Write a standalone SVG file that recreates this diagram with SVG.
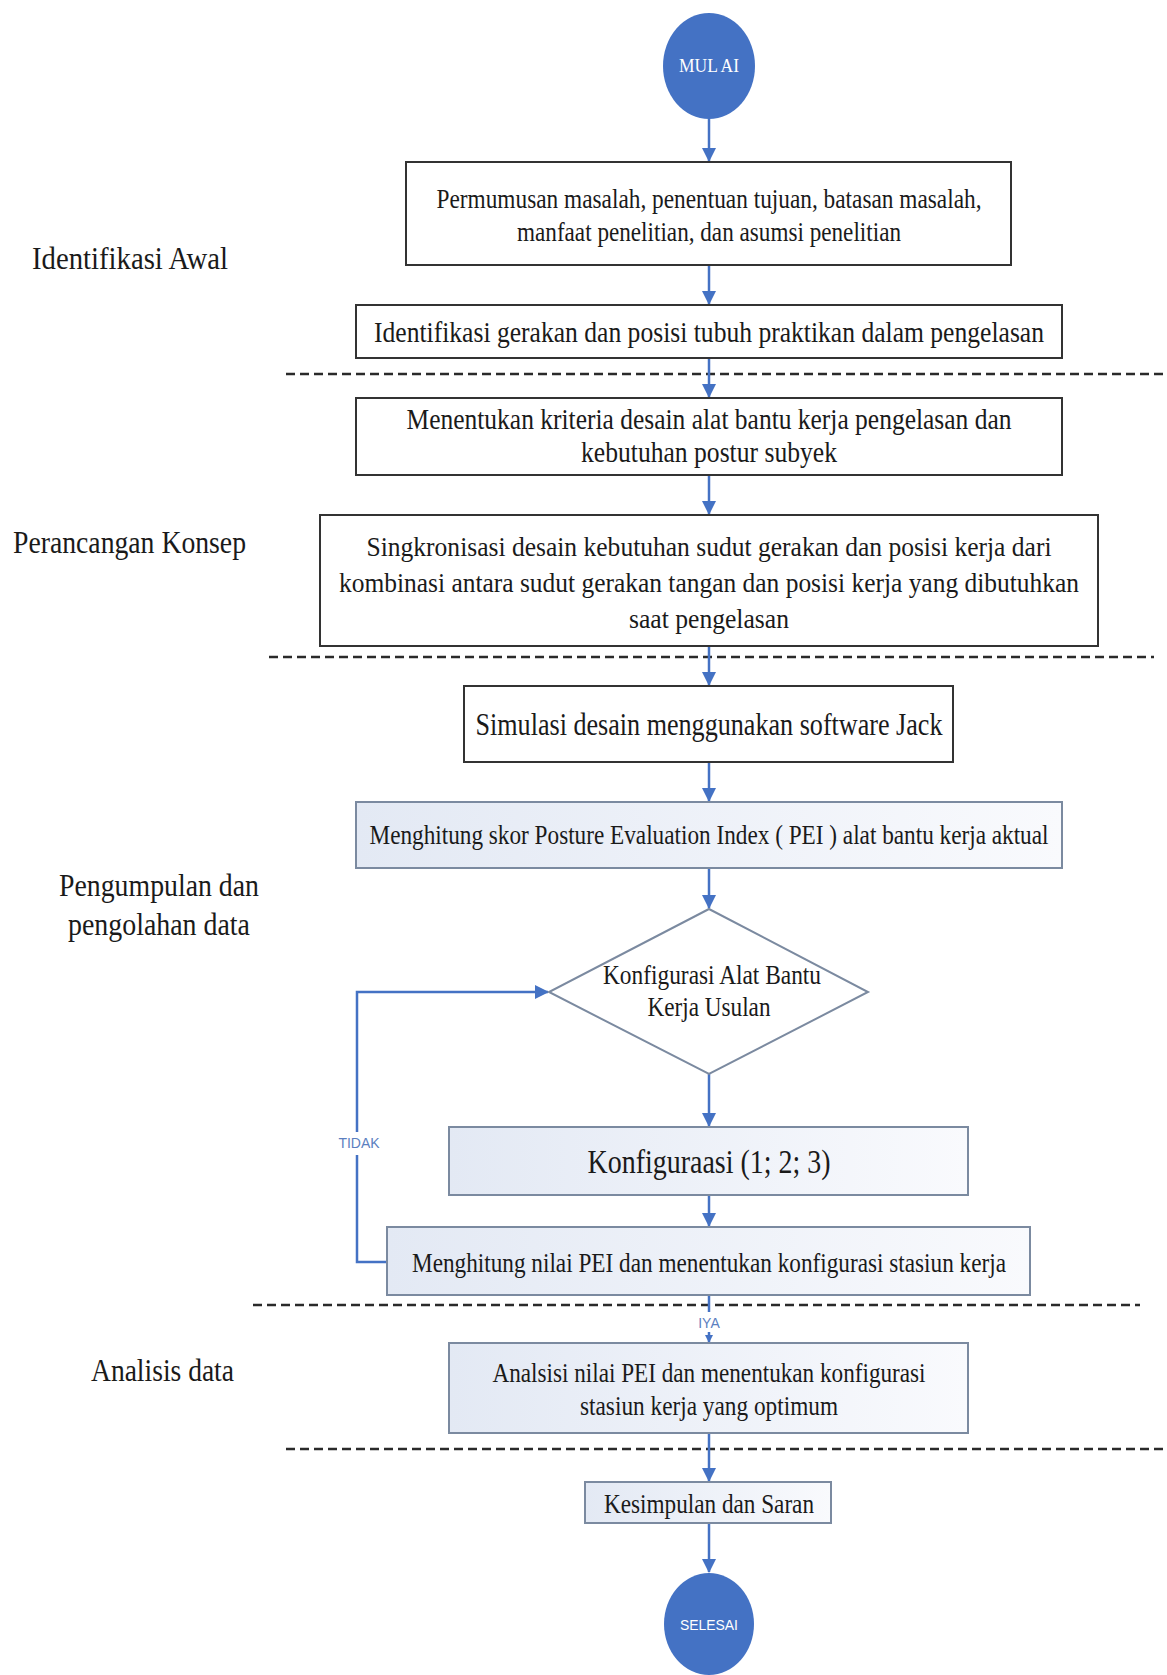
<svg xmlns="http://www.w3.org/2000/svg" width="1167" height="1675" viewBox="0 0 1167 1675">
<style>
.t{font-family:"Liberation Serif","Times New Roman",serif;fill:#1a1a1a;text-anchor:middle}
.lbl{font-family:"Liberation Serif","Times New Roman",serif;fill:#1a1a1a;font-size:31px}
.box{fill:#ffffff;stroke:#333333;stroke-width:2}
.boxb{fill:url(#lg);stroke:#7b8aa0;stroke-width:2}
.term{fill:#4472c4}
.tw{font-family:"Liberation Serif",serif;fill:#ffffff;text-anchor:middle}
.ts{font-family:"Liberation Sans",Arial,sans-serif;fill:#ffffff;text-anchor:middle}
.con{stroke:#4472c4;stroke-width:2.5;fill:none}
.dash{stroke:#2a2a2a;stroke-width:2.5;stroke-dasharray:9 5;fill:none}
.note{font-family:"Liberation Sans",Arial,sans-serif;fill:#5b7fbf;font-size:14px;text-anchor:middle}
</style>
<defs>
<linearGradient id="lg" x1="0" y1="0" x2="1" y2="0">
<stop offset="0" stop-color="#e3e9f4"/>
<stop offset="1" stop-color="#f9fafd"/>
</linearGradient>
<marker id="ah" markerWidth="14" markerHeight="14" refX="13" refY="7" orient="auto" markerUnits="userSpaceOnUse">
<path d="M0,0 L14,7 L0,14 Z" fill="#4472c4"/>
</marker>
<marker id="ahs" markerWidth="8" markerHeight="8" refX="7" refY="4" orient="auto" markerUnits="userSpaceOnUse">
<path d="M0,0 L8,4 L0,8 Z" fill="#4472c4"/>
</marker>
</defs>

<g id="phase-lines">
<line class="dash" x1="286" y1="374" x2="1167" y2="374"/>
<line class="dash" x1="269" y1="657" x2="1154" y2="657"/>
<line class="dash" x1="253" y1="1305" x2="1140" y2="1305"/>
<line class="dash" x1="286" y1="1449" x2="1167" y2="1449"/>
</g>

<g id="phase-labels">
<text class="lbl" x="32" y="269" textLength="196" lengthAdjust="spacingAndGlyphs">Identifikasi Awal</text>
<text class="lbl" x="13" y="553" textLength="233" lengthAdjust="spacingAndGlyphs">Perancangan Konsep</text>
<text class="lbl" x="59" y="896" textLength="200" lengthAdjust="spacingAndGlyphs">Pengumpulan dan</text>
<text class="lbl" x="68" y="935" textLength="182" lengthAdjust="spacingAndGlyphs">pengolahan data</text>
<text class="lbl" x="91" y="1381" textLength="143" lengthAdjust="spacingAndGlyphs">Analisis data</text>
</g>

<g id="connectors">
<line class="con" x1="709" y1="119" x2="709" y2="161" marker-end="url(#ah)"/>
<line class="con" x1="709" y1="265" x2="709" y2="304" marker-end="url(#ah)"/>
<line class="con" x1="709" y1="358" x2="709" y2="397" marker-end="url(#ah)"/>
<line class="con" x1="709" y1="475" x2="709" y2="514" marker-end="url(#ah)"/>
<line class="con" x1="709" y1="646" x2="709" y2="685" marker-end="url(#ah)"/>
<line class="con" x1="709" y1="762" x2="709" y2="801" marker-end="url(#ah)"/>
<line class="con" x1="709" y1="868" x2="709" y2="908" marker-end="url(#ah)"/>
<line class="con" x1="709" y1="1074" x2="709" y2="1126" marker-end="url(#ah)"/>
<line class="con" x1="709" y1="1195" x2="709" y2="1226" marker-end="url(#ah)"/>
<path class="con" d="M387,1262 H357 V1155 M357,1132 V992 H548" marker-end="url(#ah)"/>
<text class="note" x="359" y="1148">TIDAK</text>
<line class="con" x1="709" y1="1295" x2="709" y2="1312"/>
<text class="note" x="709" y="1328">IYA</text>
<line class="con" x1="709" y1="1332" x2="709" y2="1342" marker-end="url(#ahs)"/>
<line class="con" x1="709" y1="1433" x2="709" y2="1481" marker-end="url(#ah)"/>
<line class="con" x1="709" y1="1523" x2="709" y2="1572" marker-end="url(#ah)"/>
</g>

<g id="n-mulai">
<ellipse class="term" cx="709" cy="66" rx="46" ry="53"/>
<text class="tw" x="709" y="72" font-size="18" textLength="60" lengthAdjust="spacingAndGlyphs">MUL AI</text>
</g>

<g id="n-perumusan">
<rect class="box" x="406" y="162" width="605" height="103"/>
<text class="t" x="709" y="208" font-size="27" textLength="545" lengthAdjust="spacingAndGlyphs">Permumusan masalah, penentuan tujuan, batasan masalah,</text>
<text class="t" x="709" y="241" font-size="27" textLength="384" lengthAdjust="spacingAndGlyphs">manfaat penelitian, dan asumsi penelitian</text>
</g>

<g id="n-identifikasi">
<rect class="box" x="356" y="305" width="706" height="53"/>
<text class="t" x="709" y="342" font-size="29" textLength="670" lengthAdjust="spacingAndGlyphs">Identifikasi gerakan dan posisi tubuh praktikan dalam pengelasan</text>
</g>

<g id="n-kriteria">
<rect class="box" x="356" y="398" width="706" height="77"/>
<text class="t" x="709" y="429" font-size="29" textLength="605" lengthAdjust="spacingAndGlyphs">Menentukan kriteria desain alat bantu kerja pengelasan dan</text>
<text class="t" x="709" y="462" font-size="29" textLength="256" lengthAdjust="spacingAndGlyphs">kebutuhan postur subyek</text>
</g>

<g id="n-singkronisasi">
<rect class="box" x="320" y="515" width="778" height="131"/>
<text class="t" x="709" y="556" font-size="28" textLength="685" lengthAdjust="spacingAndGlyphs">Singkronisasi desain kebutuhan sudut gerakan dan posisi kerja dari</text>
<text class="t" x="709" y="592" font-size="28" textLength="740" lengthAdjust="spacingAndGlyphs">kombinasi antara sudut gerakan tangan dan posisi kerja yang dibutuhkan</text>
<text class="t" x="709" y="628" font-size="28" textLength="160" lengthAdjust="spacingAndGlyphs">saat pengelasan</text>
</g>

<g id="n-simulasi">
<rect class="box" x="464" y="686" width="489" height="76"/>
<text class="t" x="709" y="735" font-size="31" textLength="467" lengthAdjust="spacingAndGlyphs">Simulasi desain menggunakan software Jack</text>
</g>

<g id="n-pei-aktual">
<rect class="boxb" x="356" y="802" width="706" height="66"/>
<text class="t" x="709" y="844" font-size="27" textLength="679" lengthAdjust="spacingAndGlyphs">Menghitung skor Posture Evaluation Index ( PEI ) alat bantu kerja aktual</text>
</g>

<g id="n-konfigurasi-usulan">
<polygon points="709,909 868,992 709,1074 549,992" fill="#ffffff" stroke="#7b8aa0" stroke-width="2"/>
<text class="t" x="712" y="984" font-size="27" textLength="218" lengthAdjust="spacingAndGlyphs">Konfigurasi Alat Bantu</text>
<text class="t" x="709" y="1016" font-size="27" textLength="123" lengthAdjust="spacingAndGlyphs">Kerja Usulan</text>
</g>

<g id="n-konfiguraasi">
<rect class="boxb" x="449" y="1127" width="519" height="68"/>
<text class="t" x="709" y="1173" font-size="34" textLength="243" lengthAdjust="spacingAndGlyphs">Konfiguraasi (1; 2; 3)</text>
</g>

<g id="n-nilai-pei">
<rect class="boxb" x="387" y="1227" width="643" height="68"/>
<text class="t" x="709" y="1272" font-size="27" textLength="594" lengthAdjust="spacingAndGlyphs">Menghitung nilai PEI dan menentukan konfigurasi stasiun kerja</text>
</g>

<g id="n-analisis">
<rect class="boxb" x="449" y="1343" width="519" height="90"/>
<text class="t" x="709" y="1382" font-size="27" textLength="433" lengthAdjust="spacingAndGlyphs">Analsisi nilai PEI dan menentukan konfigurasi</text>
<text class="t" x="709" y="1415" font-size="27" textLength="258" lengthAdjust="spacingAndGlyphs">stasiun kerja yang optimum</text>
</g>

<g id="n-kesimpulan">
<rect class="boxb" x="585" y="1482" width="246" height="41"/>
<text class="t" x="709" y="1513" font-size="27" textLength="210" lengthAdjust="spacingAndGlyphs">Kesimpulan dan Saran</text>
</g>

<g id="n-selesai">
<ellipse class="term" cx="709" cy="1624" rx="45" ry="51"/>
<text class="ts" x="709" y="1630" font-size="15" textLength="58" lengthAdjust="spacingAndGlyphs">SELESAI</text>
</g>
</svg>
